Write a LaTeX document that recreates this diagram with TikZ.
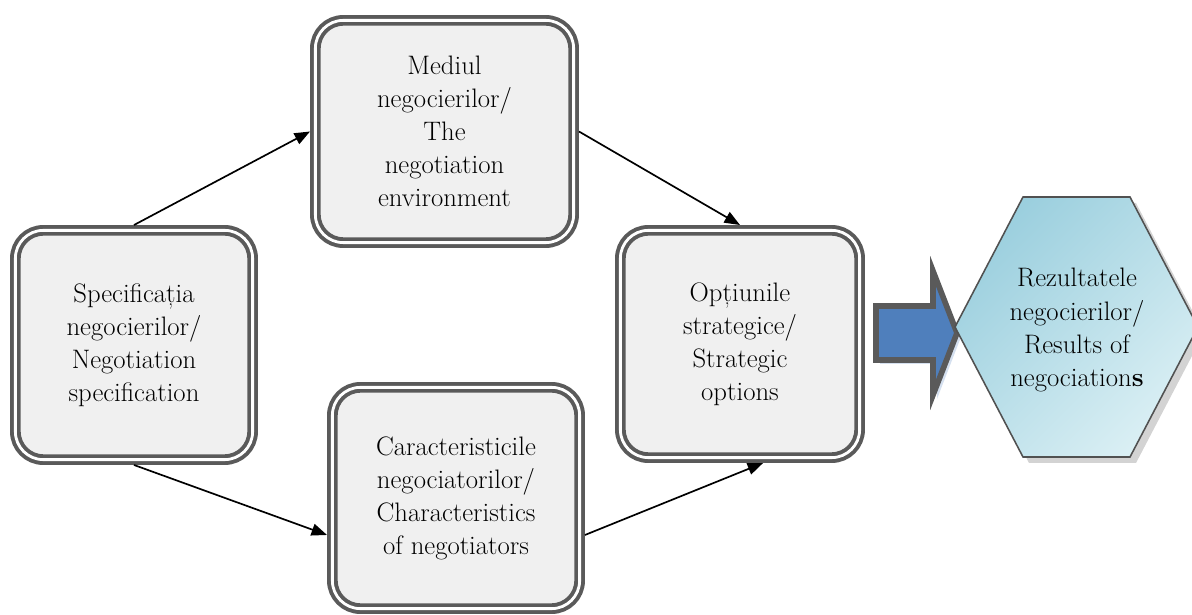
\documentclass[tikz,border=0pt]{standalone}
\usepackage{fontspec}
\usetikzlibrary{arrows.meta,shadows}
\definecolor{rim}{HTML}{5A5A5A}
\definecolor{cardfill}{HTML}{F0F0F0}
\definecolor{hexA}{HTML}{9BCFDE}
\definecolor{hexB}{HTML}{DAEFF4}
\definecolor{arrowblue}{HTML}{4F7FBC}

\begin{document}
\begin{tikzpicture}[x=0.025cm, y=-0.025cm,
    font=\fontsize{19}{23.5}\selectfont,
    card/.style={draw=rim, double=white, double distance=2pt, line width=2.8pt, fill=cardfill, rounded corners=0.7cm, align=center, inner sep=0pt, outer sep=3.8pt},
    link/.style={line width=1.2pt, -{Triangle[length=11pt,width=8.5pt]}},
    hexa/.style={draw=rim!90!black, line width=1.1pt, top color=hexA, bottom color=hexB, shading angle=45,
        drop shadow={shadow xshift=0.15cm, shadow yshift=-0.15cm, opacity=0.35}},
    bigarrow/.style={draw=rim, line width=4pt, fill=arrowblue, line join=miter,
        drop shadow={shadow xshift=0.1cm, shadow yshift=-0.1cm, fill=arrowblue!60, opacity=0.4}}]

    \useasboundingbox (0,0) rectangle (1192,615);

    % cele patru blocuri
    \node[card, minimum width=5.93cm, minimum height=5.73cm] (spec) at (134,345) {Specificația\\negocierilor/\\Negotiation\\specification};
    \node[card, minimum width=6.455cm, minimum height=5.555cm] (med) at (444.5,131.5) {Mediul\\negocierilor/\\The\\negotiation\\environment};
    \node[card, minimum width=6.18cm, minimum height=5.53cm] (car) at (456,498) {Caracteristicile\\negociatorilor/\\Characteristics\\of negotiators};
    \node[card, minimum width=5.98cm, minimum height=5.68cm] (opt) at (740,344) {Opțiunile\\strategice/\\Strategic\\options};

    % legaturi
    \draw[link] (spec.north) -- (med.west);
    \draw[link] (med.east) -- (opt.north);
    \draw[link] (spec.south) -- (car.196);
    \draw[link] (car.344) -- (opt.281);

    % sageata mare si hexagonul cu rezultatele
    \draw[bigarrow] (876,306) -- (933,306) -- (933,271) -- (957,333) -- (933,395) -- (933,360) -- (876,360) -- cycle;
    \draw[hexa] (955,327) -- (1023,197) -- (1130,197) -- (1198,327) -- (1130,457) -- (1023,457) -- cycle;
    \node[align=center] (rez) at (1077,330) {Rezultatele\\negocierilor/\\Results of\\negociation\textbf{s}};
\end{tikzpicture}
\end{document}
